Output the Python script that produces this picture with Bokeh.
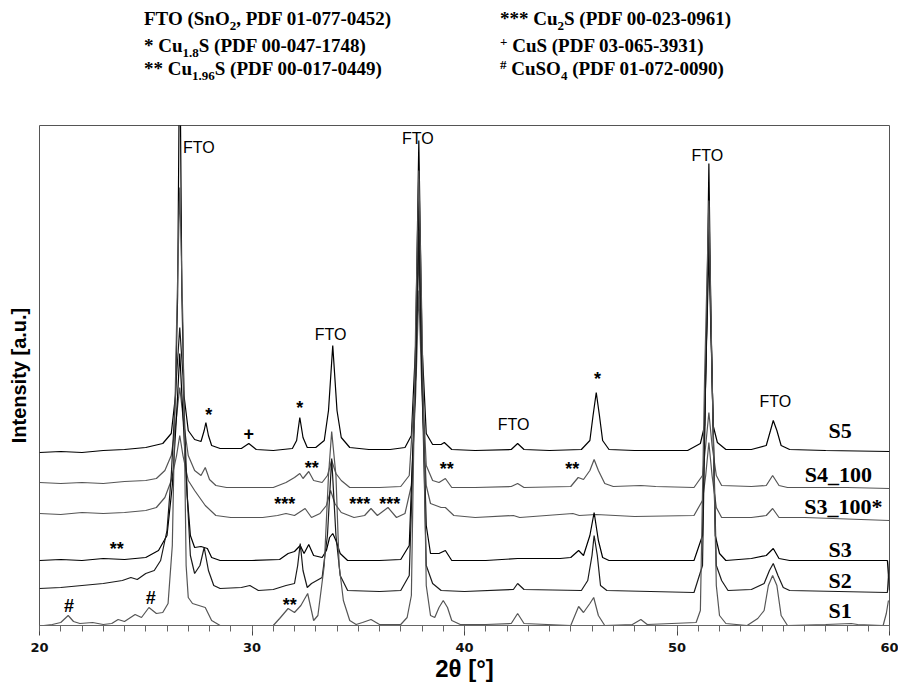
from bokeh.plotting import figure
from bokeh.models import Range1d, FixedTicker, SingleIntervalTicker, Div
from bokeh.layouts import column
from bokeh.embed import file_html
from bokeh.resources import INLINE
from bokeh.core.properties import value

# ---------------- data (2theta in degrees, intensity in a.u. incl. vertical offset) ----------------
s5_deg = [20.0, 21.0, 22.0, 23.0, 24.0, 25.0, 25.8, 26.2, 26.4, 26.5, 26.6, 26.7, 26.8, 27.0, 27.3, 27.6, 27.75, 27.83, 27.95, 28.1,
          28.5, 29.5, 29.85, 30.2, 31.0, 31.9, 32.1, 32.25, 32.4, 32.6, 33.0, 33.4, 33.6, 33.8, 34.0, 34.2, 34.6, 35.5, 36.5, 37.2,
          37.5, 37.7, 37.85, 38.0, 38.2, 38.5, 38.9, 39.05, 39.4, 40.5, 42.2, 42.5, 42.8, 44.0, 45.5, 45.9, 46.05, 46.2, 46.35, 46.5,
          46.8, 48.0, 50.5, 51.1, 51.3, 51.4, 51.5, 51.6, 51.7, 51.9, 52.3, 53.5, 54.2, 54.4, 54.53, 54.7, 54.9, 55.3, 57.0, 60.0]
s5_int = [173, 174, 173, 175, 176, 178, 182, 192, 230, 330, 600, 330, 230, 195, 186, 184, 195, 203, 190, 180,
          177, 177, 182, 176, 175, 177, 185, 208, 188, 178, 178, 185, 215, 280, 215, 188, 178, 176, 176, 178,
          190, 280, 485, 280, 192, 181, 181, 183, 176, 175, 176, 182, 176, 175, 176, 185, 210, 233, 210, 185,
          176, 175, 175, 182, 200, 300, 462, 300, 200, 183, 176, 176, 180, 195, 205, 195, 180, 176, 175, 174]

s4_deg = [20.0, 21.0, 22.0, 23.0, 24.0, 25.0, 25.5, 25.9, 26.2, 26.4, 26.6, 26.8, 27.0, 27.3, 27.6, 27.8, 28.0, 28.3, 28.8, 30.0,
          31.0, 31.6, 32.0, 32.25, 32.4, 32.67, 32.9, 33.3, 33.55, 33.75, 33.95, 34.2, 34.6, 36.0, 37.0, 37.4, 37.7, 37.85, 38.0, 38.2,
          38.5, 38.8, 39.1, 39.4, 40.5, 42.2, 42.5, 42.8, 45.0, 45.35, 45.6, 45.9, 46.1, 46.3, 46.6, 47.0, 48.3, 49.0, 50.8, 51.2,
          51.35, 51.5, 51.65, 51.85, 52.1, 53.5, 54.2, 54.5, 54.8, 55.2, 58.0, 60.0]
s4_int = [143, 142, 143, 142, 144, 145, 147, 155, 170, 200, 238, 200, 170, 155, 150, 158, 146, 140, 138, 138,
          138, 143, 148, 152, 147, 154, 145, 143, 150, 165, 152, 145, 138, 138, 139, 150, 250, 375, 250, 160,
          145, 143, 147, 138, 138, 139, 142, 138, 139, 148, 146, 155, 166, 155, 142, 139, 140, 139, 138, 150,
          180, 213, 180, 150, 140, 139, 140, 150, 140, 138, 138, 137]

s3b_deg = [20.0, 21.0, 22.0, 23.0, 24.0, 25.0, 25.5, 25.9, 26.2, 26.45, 26.6, 26.75, 27.0, 27.3, 27.8, 28.3, 29.0, 30.5, 31.2, 31.6,
           32.0, 32.5, 32.8, 33.2, 33.5, 33.7, 33.9, 34.2, 34.8, 35.3, 35.6, 35.9, 36.4, 36.8, 37.2, 37.5, 37.7, 37.85, 38.0, 38.2,
           38.4, 38.9, 39.1, 39.5, 40.5, 42.3, 42.6, 45.1, 45.4, 46.2, 48.0, 50.8, 51.2, 51.35, 51.5, 51.65, 51.85, 52.1, 53.5, 54.2,
           54.5, 54.8, 56.0, 60.0]
s3b_int = [112, 111, 113, 112, 113, 115, 118, 128, 145, 170, 190, 170, 145, 135, 120, 110, 108, 108, 110, 112,
           110, 117, 108, 112, 120, 135, 122, 113, 108, 110, 117, 110, 118, 108, 112, 140, 230, 335, 230, 140,
           122, 118, 118, 110, 108, 110, 108, 112, 110, 111, 109, 110, 125, 150, 183, 150, 118, 108, 108, 110,
           117, 108, 108, 105]

s3_deg = [20.0, 21.0, 22.0, 23.0, 24.0, 25.0, 25.6, 26.0, 26.25, 26.45, 26.6, 26.75, 26.95, 27.1, 27.3, 27.6, 27.9, 28.1, 28.5, 30.0,
          31.3, 31.7, 32.0, 32.27, 32.45, 32.67, 32.9, 33.3, 33.5, 33.65, 33.8, 33.95, 34.15, 34.5, 36.0, 37.0, 37.4, 37.7, 37.85, 38.0,
          38.2, 38.4, 38.8, 39.1, 39.4, 41.0, 42.5, 44.5, 45.0, 45.37, 45.6, 45.9, 46.1, 46.3, 46.5, 46.8, 50.8, 51.2, 51.35, 51.5,
          51.65, 51.8, 52.0, 52.3, 53.5, 54.2, 54.53, 54.8, 55.3, 59.9, 60.0]
s3_int = [65, 66, 65, 67, 66, 68, 75, 90, 140, 210, 272, 210, 130, 90, 78, 79, 77, 68, 65, 65,
          66, 72, 74, 80, 72, 81, 70, 68, 75, 88, 92, 85, 72, 65, 65, 66, 80, 250, 425, 250,
          100, 72, 72, 75, 65, 65, 67, 67, 68, 75, 70, 90, 113, 85, 68, 65, 65, 90, 250, 375,
          250, 90, 72, 65, 67, 70, 77, 67, 65, 65, 35]

s2_deg = [20.0, 21.0, 22.0, 23.0, 23.9, 24.3, 24.6, 25.0, 25.4, 25.7, 26.0, 26.2, 26.45, 26.6, 26.75, 26.95, 27.1, 27.3, 27.55, 27.75,
          27.95, 28.2, 28.5, 29.5, 29.9, 30.3, 31.0, 31.6, 32.0, 32.15, 32.27, 32.4, 32.6, 32.8, 33.3, 33.55, 33.75, 33.95, 34.15, 34.5,
          36.0, 37.0, 37.4, 37.7, 37.85, 38.0, 38.2, 38.5, 38.9, 40.0, 42.3, 42.5, 42.8, 45.5, 45.8, 46.0, 46.1, 46.25, 46.4, 46.7,
          50.8, 51.2, 51.35, 51.5, 51.65, 51.85, 52.1, 52.4, 53.5, 54.1, 54.35, 54.53, 54.75, 55.0, 55.3, 59.9, 60.0]
s2_int = [37, 38, 40, 42, 45, 48, 46, 52, 55, 65, 95, 150, 250, 298, 250, 130, 70, 52, 60, 78,
          55, 40, 37, 38, 40, 35, 36, 40, 42, 60, 82, 55, 38, 42, 48, 90, 167, 90, 50, 35,
          34, 35, 50, 250, 395, 250, 60, 42, 35, 34, 36, 42, 36, 35, 45, 70, 90, 70, 40, 35,
          33, 60, 250, 405, 250, 60, 45, 35, 36, 42, 55, 62, 50, 38, 35, 33, 65]

s1_deg = [20.2, 20.6, 21.0, 21.35, 21.6, 21.9, 22.5, 23.0, 23.4, 23.7, 24.0, 24.5, 24.8, 25.15, 25.5, 25.8, 26.05, 26.25, 26.45, 26.6,
          26.75, 26.9, 27.0, 27.2, 27.5, 27.8, 28.1, 28.5, 30.0, 31.0, 31.3, 31.7, 32.0, 32.3, 32.62, 32.9, 33.1, 33.4, 33.6, 33.75,
          33.95, 34.1, 34.3, 34.6, 34.9, 35.2, 35.6, 36.0, 37.0, 37.3, 37.5, 37.7, 37.85, 38.0, 38.2, 38.4, 38.6, 38.8, 39.0, 39.2,
          39.4, 39.8, 41.0, 42.2, 42.5, 42.8, 45.0, 45.37, 45.6, 45.9, 46.08, 46.3, 46.6, 47.9, 48.3, 48.6, 50.9, 51.1, 51.3, 51.5,
          51.65, 51.85, 52.0, 52.3, 53.3, 53.8, 54.1, 54.3, 54.5, 54.7, 54.9, 55.2, 57.0, 58.2, 58.5, 59.7, 59.85, 59.95]
s1_int = [0, 1, 3, 10, 4, 2, 3, 1, 2, 6, 4, 11, 8, 18, 12, 13, 22, 80, 300, 438,
          300, 60, 28, 22, 20, 18, 5, 0, 0, 0, 7, 17, 13, 20, 32, 5, 10, 60, 150, 194,
          150, 60, 25, 5, 1, 3, 6, 1, 1, 8, 30, 300, 455, 300, 40, 10, 8, 18, 25, 18,
          5, 1, 1, 2, 12, 2, 0, 19, 13, 22, 28, 10, 0, 1, 6, 1, 3, 15, 250, 425,
          250, 40, 10, 2, 0, 7, 15, 40, 50, 40, 10, 0, 1, 2, 1, 0, 12, 25]

# peak annotations
fto_deg = [27.50, 37.80, 33.70, 42.31, 51.43, 54.63]
fto_int = [478, 487, 291, 201, 470, 224]
fto_txt = ["FTO"] * 6

star_deg = [27.97, 32.25, 32.81, 39.16, 31.54, 35.07, 36.48, 31.78, 23.64, 45.07, 46.26]
star_int = [215, 222, 162, 161, 126, 126, 126, 25, 81, 161, 251]
star_txt = ["*", "*", "**", "**", "***", "***", "***", "**", "**", "**", "*"]

sym_deg = [29.85, 21.39, 25.24]
sym_int = [192, 20, 28]
sym_txt = ["+", "#", "#"]

sample_deg = [57.68, 57.59, 57.83, 57.68, 57.68, 57.68]
sample_int = [195, 151, 119, 76, 45, 15]
sample_txt = ["S5", "S4_100", "S3_100*", "S3", "S2", "S1"]

# ---------------- figure ----------------
p = figure(frame_width=850, frame_height=500, output_backend="svg", toolbar_location=None,
           x_range=Range1d(20, 60), y_range=Range1d(0, 500),
           min_border_left=39, min_border_right=9, min_border_top=20, min_border_bottom=60)
p.xgrid.visible = False
p.ygrid.visible = False
p.outline_line_color = "#555555"
p.outline_line_width = 1
p.background_fill_color = "white"
p.border_fill_color = "white"

curves = [
    (s5_deg, s5_int, "#000000"),
    (s4_deg, s4_int, "#555555"),
    (s3b_deg, s3b_int, "#555555"),
    (s3_deg, s3_int, "#000000"),
    (s2_deg, s2_int, "#1a1a1a"),
    (s1_deg, s1_int, "#555555"),
]
for xs, ys, col in curves:
    p.line(xs, ys, line_color=col, line_width=1.2)

p.text(x=fto_deg, y=fto_int, text=fto_txt, text_font=value("Liberation Sans"), text_font_size="16px",
       text_align="center", text_baseline="middle", text_color="black")
p.text(x=star_deg, y=star_int, text=star_txt, text_font=value("Liberation Sans"), text_font_size="18px",
       text_font_style="bold", text_align="center", text_baseline="middle", text_color="black", y_offset=4)
p.text(x=sym_deg, y=sym_int, text=sym_txt, text_font=value("Liberation Sans"), text_font_size="18px",
       text_font_style="bold", text_align="center", text_baseline="middle", text_color="black")
p.text(x=sample_deg, y=sample_int, text=sample_txt, text_font=value("Liberation Serif"), text_font_size="22px",
       text_font_style="bold", text_align="center", text_baseline="middle", text_color="black")

# x axis
p.xaxis.ticker = SingleIntervalTicker(interval=10, num_minor_ticks=10)
p.xaxis.axis_line_color = "#666666"
p.xaxis.major_tick_line_color = "#444444"
p.xaxis.minor_tick_line_color = "#666666"
p.xaxis.major_tick_in = 0
p.xaxis.major_tick_out = 10
p.xaxis.minor_tick_in = 0
p.xaxis.minor_tick_out = 6
p.xaxis.major_label_standoff = 7
p.xaxis.major_label_text_font = "DejaVu Sans"
p.xaxis.major_label_text_font_style = "bold"
p.xaxis.major_label_text_font_size = "13px"
p.xaxis.major_label_text_color = "#111111"
p.xaxis.axis_label = "2θ [°]"
p.xaxis.axis_label_text_font = "'Liberation Sans Narrow', 'Liberation Sans'"
p.xaxis.axis_label_text_font_style = "bold"
p.xaxis.axis_label_text_font_size = "24px"
p.xaxis.axis_label_text_color = "black"
p.xaxis.axis_label_standoff = 0

# y axis: label only
p.yaxis.ticker = FixedTicker(ticks=[])
p.yaxis.axis_line_color = None
p.yaxis.major_tick_line_color = None
p.yaxis.minor_tick_line_color = None
p.yaxis.axis_label = "Intensity [a.u.]"
p.yaxis.axis_label_text_font = "Liberation Sans"
p.yaxis.axis_label_text_font_style = "bold"
p.yaxis.axis_label_text_font_size = "20px"
p.yaxis.axis_label_text_color = "black"
p.yaxis.axis_label_standoff = 10

# ---------------- legend block (HTML with sub/superscripts) ----------------
def span(left, top, html):
    return ('<span style="position:absolute;left:%dpx;top:%dpx;white-space:nowrap;">%s</span>' % (left, top, html))

sub = '<span style="position:relative;top:5px;font-size:13px;">%s</span>'
sup = '<span style="position:relative;top:-6px;font-size:13px;">%s</span>'
legend_html = (
    '<div style="position:relative;width:898px;height:105px;font-family:\'Liberation Serif\',serif;'
    'font-weight:bold;font-size:19px;color:#000;line-height:22px;">'
    + span(144, 8, "FTO (SnO" + sub % "2" + ", PDF 01-077-0452)")
    + span(144, 35, "* Cu" + sub % "1.8" + "S (PDF 00-047-1748)")
    + span(144, 58, "** Cu" + sub % "1.96" + "S (PDF 00-017-0449)")
    + span(500, 8, "*** Cu" + sub % "2" + "S (PDF 00-023-0961)")
    + span(500, 35, sup % "+" + " CuS (PDF 03-065-3931)")
    + span(500, 58, sup % "#" + " CuSO" + sub % "4" + " (PDF 01-072-0090)")
    + '</div>'
)
div = Div(text=legend_html, width=898, height=105, margin=0)

layout = column(div, p, spacing=0)
open("out.html", "w").write(file_html(layout, INLINE))
